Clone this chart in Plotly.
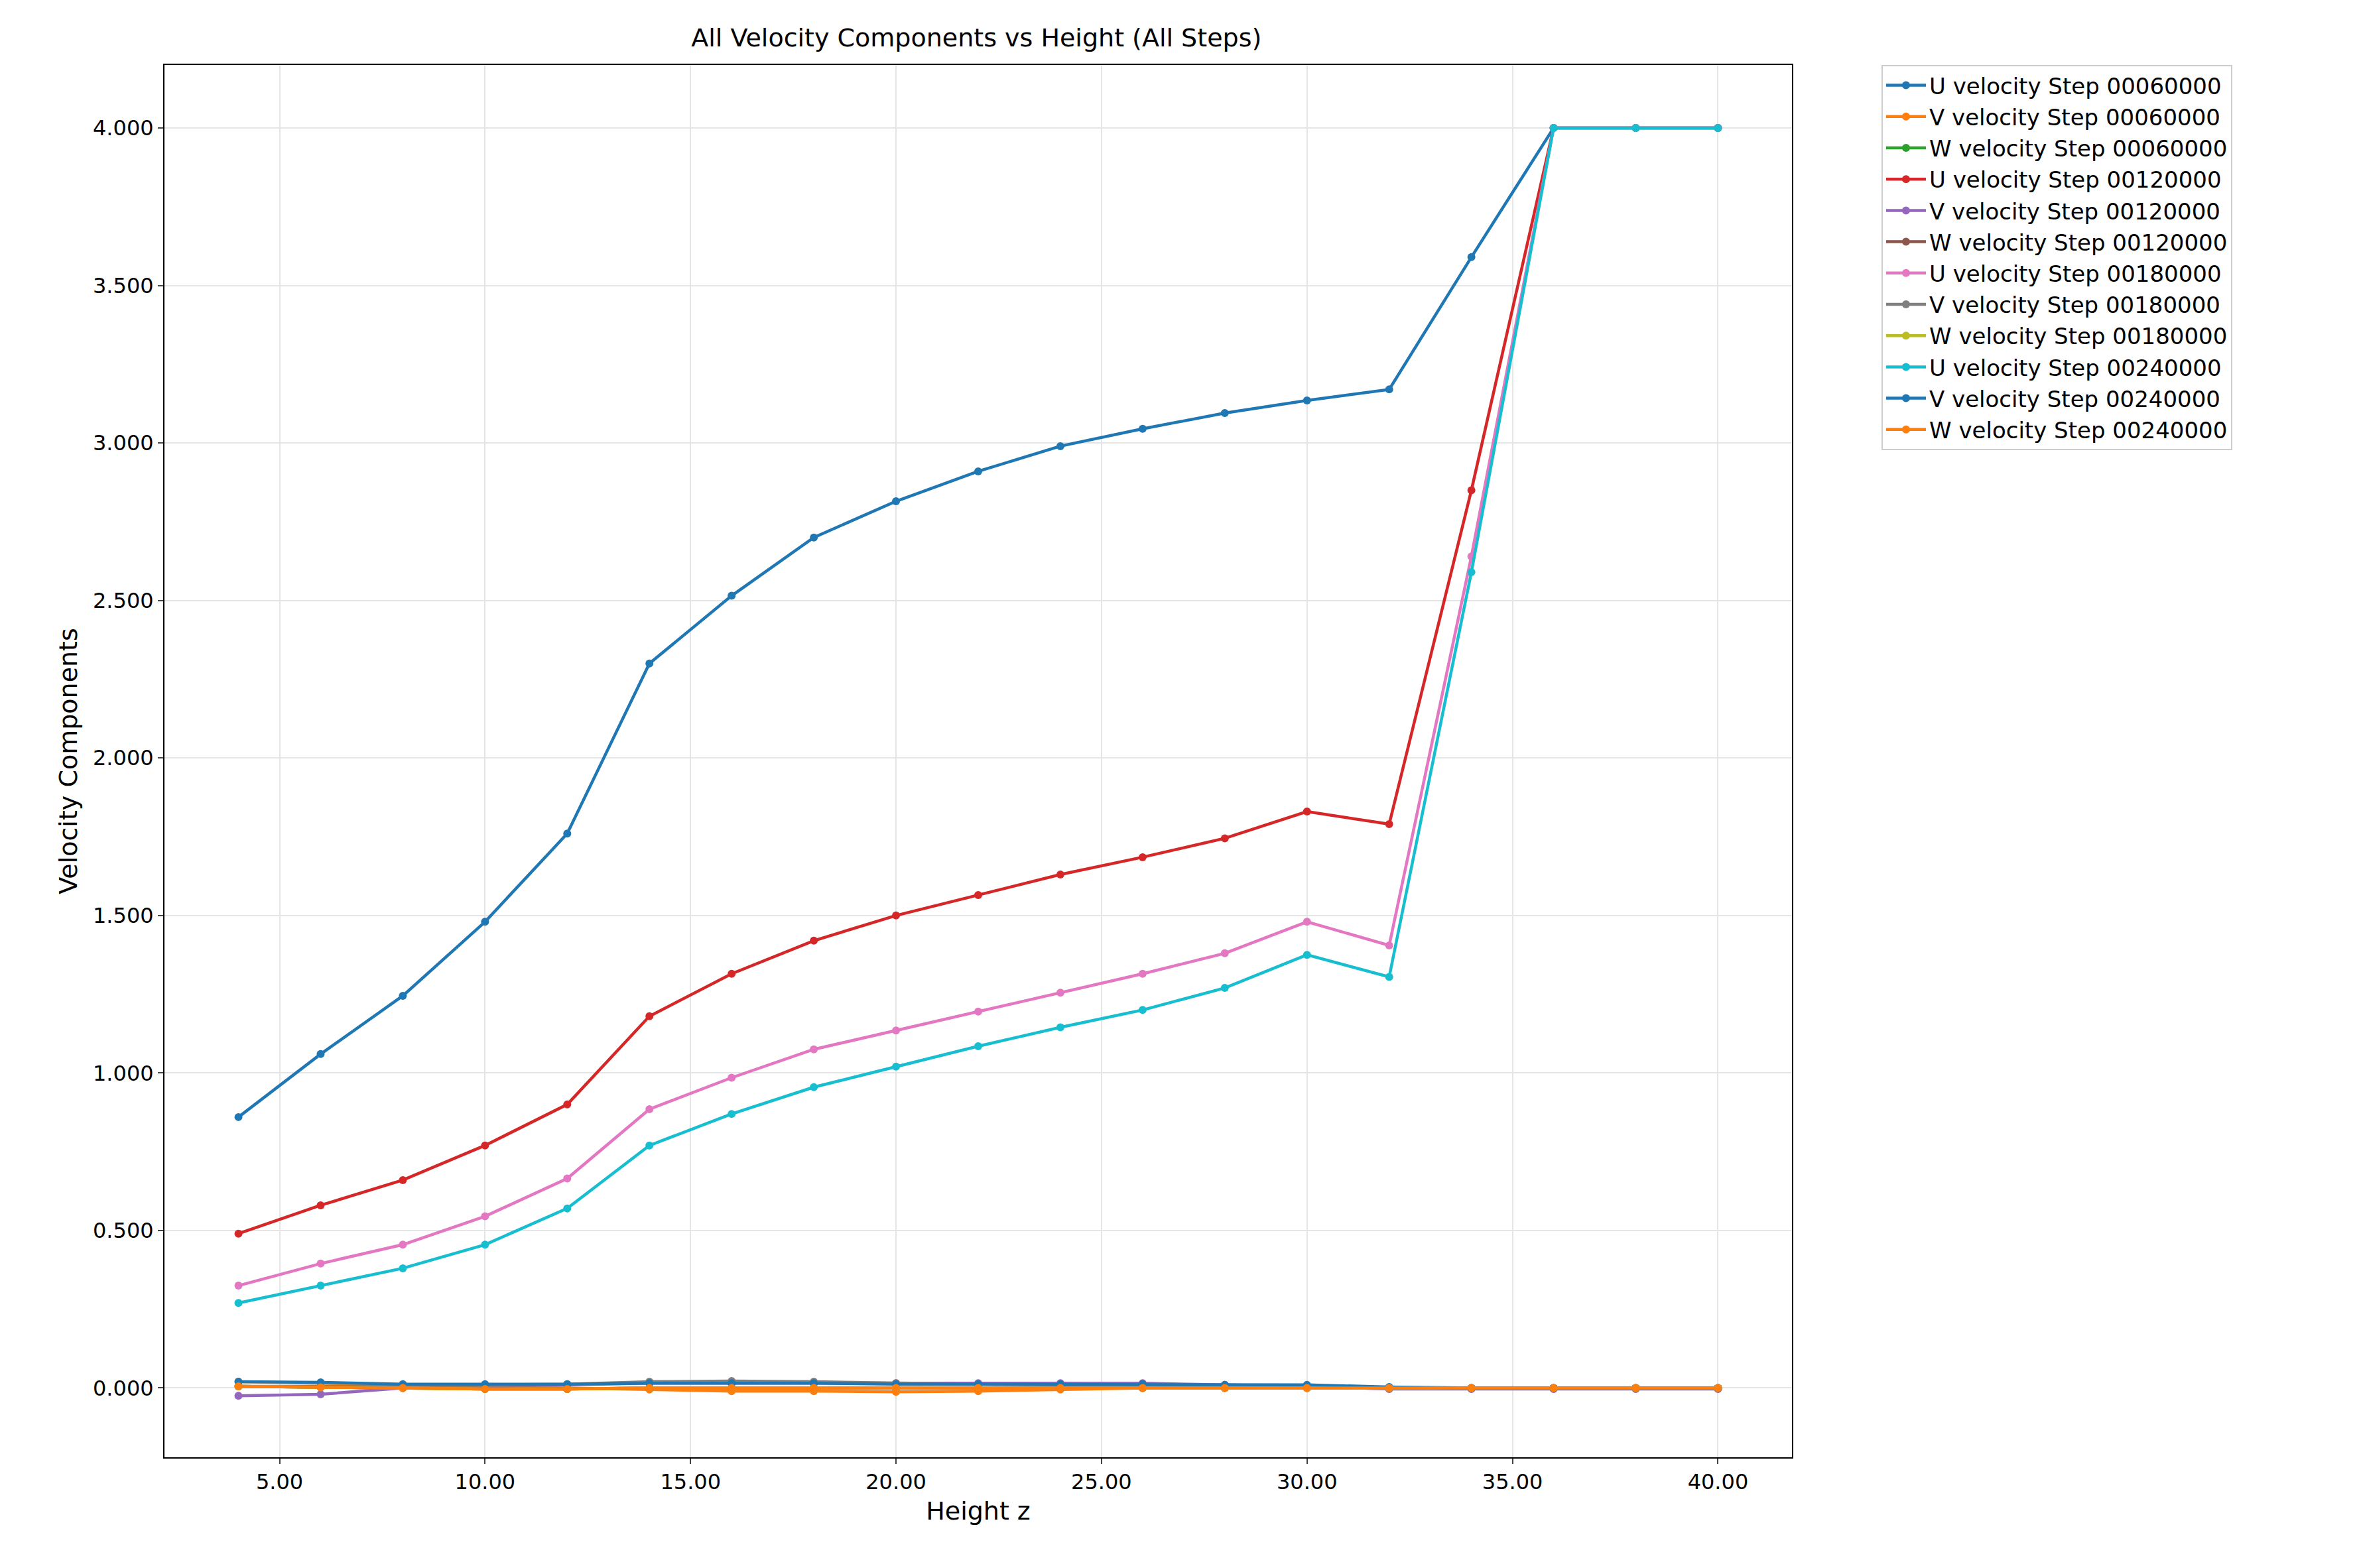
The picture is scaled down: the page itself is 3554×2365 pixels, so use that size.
import plotly.graph_objects as go

z = [4, 6, 8, 10, 12, 14, 16, 18, 20, 22, 24, 26, 28, 30, 32, 34, 36, 38, 40]

u60 = [0.86, 1.06, 1.245, 1.48, 1.76, 2.30, 2.515, 2.70, 2.815, 2.91, 2.99, 3.045, 3.095, 3.135, 3.17, 3.59, 4.0, 4.0, 4.0]
v60 = [0.02, 0.015, 0.01, 0.005, 0.0, -0.005, -0.01, -0.01, -0.012, -0.01, -0.005, 0.0, 0.0, 0.0, -0.002, -0.002, -0.002, -0.002, -0.002]
w60 = [0.005, 0.002, 0.0, -0.003, -0.003, 0.0, 0.0, 0.0, 0.0, 0.0, 0.0, 0.0, 0.0, 0.0, 0.0, 0.0, 0.0, 0.0, 0.0]
u120 = [0.49, 0.58, 0.66, 0.77, 0.90, 1.18, 1.315, 1.42, 1.50, 1.565, 1.63, 1.685, 1.745, 1.83, 1.79, 2.85, 4.0, 4.0, 4.0]
v120 = [-0.025, -0.02, 0.0, 0.005, 0.01, 0.015, 0.015, 0.015, 0.015, 0.015, 0.015, 0.015, 0.01, 0.005, -0.003, -0.003, -0.003, -0.003, -0.003]
w120 = [0.005, 0.002, 0.0, -0.003, -0.003, 0.0, 0.0, 0.0, 0.0, 0.0, 0.0, 0.0, 0.0, 0.0, 0.0, 0.0, 0.0, 0.0, 0.0]
u180 = [0.325, 0.395, 0.455, 0.545, 0.665, 0.885, 0.985, 1.075, 1.135, 1.195, 1.255, 1.315, 1.38, 1.48, 1.405, 2.64, 4.0, 4.0, 4.0]
v180 = [0.005, 0.005, 0.005, 0.01, 0.012, 0.02, 0.022, 0.02, 0.015, 0.012, 0.01, 0.008, 0.005, 0.003, -0.002, -0.002, -0.002, -0.002, -0.002]
w180 = [0.005, 0.002, 0.0, -0.003, -0.003, 0.0, 0.0, 0.0, 0.0, 0.0, 0.0, 0.0, 0.0, 0.0, 0.0, 0.0, 0.0, 0.0, 0.0]
u240 = [0.27, 0.325, 0.38, 0.455, 0.57, 0.77, 0.87, 0.955, 1.02, 1.085, 1.145, 1.2, 1.27, 1.375, 1.305, 2.59, 4.0, 4.0, 4.0]
v240 = [0.02, 0.018, 0.012, 0.012, 0.012, 0.015, 0.015, 0.015, 0.012, 0.012, 0.012, 0.012, 0.01, 0.01, 0.003, 0.0, 0.0, 0.0, 0.0]
w240 = [0.005, 0.002, 0.0, -0.003, -0.003, 0.0, 0.0, 0.0, 0.0, 0.0, 0.0, 0.0, 0.0, 0.0, 0.0, 0.0, 0.0, 0.0, 0.0]

steps = ["00060000", "00120000", "00180000", "00240000"]
series = [(u60, v60, w60), (u120, v120, w120), (u180, v180, w180), (u240, v240, w240)]
colors = ["#1f77b4", "#ff7f0e", "#2ca02c", "#d62728", "#9467bd", "#8c564b",
          "#e377c2", "#7f7f7f", "#bcbd22", "#17becf", "#1f77b4", "#ff7f0e"]

fig = go.Figure()
i = 0
for step, comps in zip(steps, series):
    for name, vals in zip(["U", "V", "W"], comps):
        fig.add_trace(go.Scatter(
            x=z, y=vals, mode="lines+markers",
            name=f"{name} velocity Step {step}",
            line=dict(color=colors[i], width=4.5),
            marker=dict(size=12, color=colors[i])))
        i += 1

fig.update_layout(
    width=3554, height=2365,
    plot_bgcolor="white", paper_bgcolor="white",
    font=dict(family="DejaVu Sans", size=32, color="black"),
    title=dict(text="All Velocity Components vs Height (All Steps)", x=0.412, xanchor="center",
               y=0.985, font=dict(size=38)),
    margin=dict(l=240, r=860, t=90, b=175),
    legend=dict(x=1.055, y=1.0, xanchor="left", yanchor="top", bordercolor="#cccccc",
                borderwidth=2, font=dict(size=34), tracegroupgap=0, itemwidth=60),
    xaxis=dict(title=dict(text="Height z", standoff=12), range=[2.2, 41.8], tickformat=".2f",
               dtick=5, tick0=0, showgrid=True, gridcolor="#e5e5e5", gridwidth=2,
               showline=True, linecolor="black", linewidth=2, mirror=True,
               ticks="outside", ticklen=8, tickwidth=2, zeroline=False),
    yaxis=dict(title=dict(text="Velocity Components", standoff=12), range=[-0.22, 4.2],
               tickformat=".3f", dtick=0.5, showgrid=True, gridcolor="#e5e5e5", gridwidth=2,
               showline=True, linecolor="black", linewidth=2, mirror=True,
               ticks="outside", ticklen=8, tickwidth=2, zeroline=False),
)

fig.write_html("out.html")
